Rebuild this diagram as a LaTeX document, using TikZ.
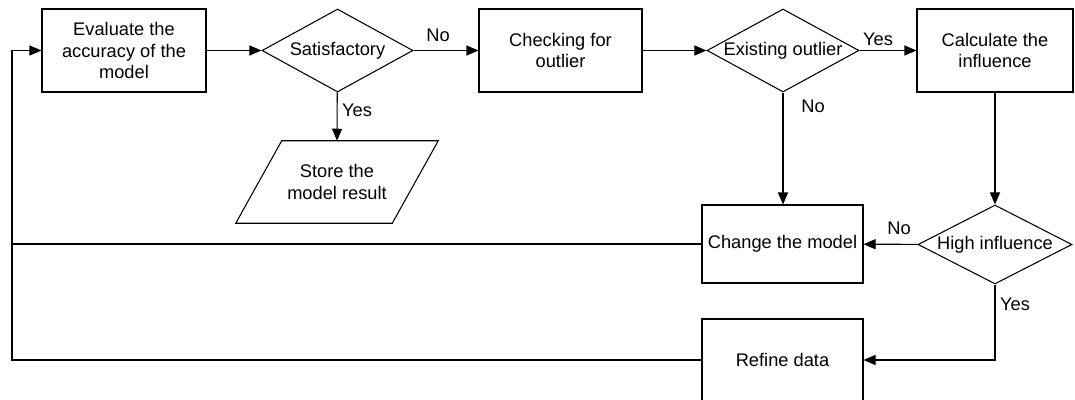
\documentclass[tikz,border=0pt]{standalone}
\usepackage{fontspec}
\setmainfont{Liberation Sans}
\usetikzlibrary{shapes.geometric,arrows.meta}
\begin{document}
\begin{tikzpicture}[x=0.75pt,y=-0.75pt,
  every node/.style={font=\fontsize{13.7}{16}\selectfont},
  procbox/.style={draw, rectangle, line width=0.8pt, align=center, inner sep=0pt},
  decision/.style={draw, diamond, line width=0.8pt, inner sep=0pt},
  flow/.style={line width=0.8pt, -{Triangle[length=9pt,width=7.5pt]}},
  plain/.style={line width=0.8pt},
  lbl/.style={inner sep=0pt}]
\useasboundingbox (0,0) rectangle (1075,400);
\clip (0,0) rectangle (1075,400);

% process steps and decisions
\node[procbox, minimum width=123pt, minimum height=62.25pt] (eval) at (124,50.5)
  {Evaluate the\\accuracy of the\\model};
\node[decision, minimum width=113.25pt, minimum height=62.25pt,
  label={center:Satisfactory}] (sat) at (337.5,50.5) {};
\node[procbox, minimum width=122.25pt, minimum height=62.25pt] (check) at (560.5,50.5)
  {Checking for\\outlier};
\node[decision, minimum width=114pt, minimum height=62.25pt,
  label={center:Existing outlier}] (exist) at (783,50.5) {};
\node[procbox, minimum width=117pt, minimum height=62.25pt] (calc) at (995,50.5)
  {Calculate the\\influence};
\node[decision, minimum width=115.5pt, minimum height=59.25pt,
  label={center:High influence}] (high) at (995,244.5) {};
\node[procbox, minimum width=120.75pt, minimum height=58.5pt] (change) at (782.5,244)
  {Change the model};
\node[procbox, minimum width=120.75pt, minimum height=61.5pt] (refine) at (782.5,360)
  {Refine data};

% output parallelogram
\node[align=center, inner sep=0pt, minimum width=151.5pt, minimum height=61.5pt]
  (store) at (337,182) {Store the\\model result};
\draw[plain] ([xshift=34.5pt]store.north west) -- (store.north east)
  -- ([xshift=-34.5pt]store.south east) -- (store.south west) -- cycle;

% return rail on the left
\coordinate (rail) at (12,50.5);

% connectors
\draw[flow] (eval) -- (sat);
\draw[flow] (sat) -- (check);
\draw[flow] (sat) -- (store.north);
\draw[flow] (check) -- (exist);
\draw[flow] (exist) -- (calc);
\draw[flow] (exist.south) -- (exist.south |- change.north);
\draw[flow] (calc) -- (high);
\draw[flow] (high) -- (change);
\draw[flow] (high.south) |- (refine.east);
\draw[plain] (change.west) -- (change.west -| rail);
\draw[flow] (refine.west) -| (rail) -- (eval.west);

% branch labels
\node[lbl] (noA) at (438,35) {No};
\node[lbl] (yesA) at (357,110) {Yes};
\node[lbl] (yesB) at (878,39) {Yes};
\node[lbl] (noB) at (813,106) {No};
\node[lbl] (noC) at (899,228) {No};
\node[lbl] (yesC) at (1015,304) {Yes};
\end{tikzpicture}
\end{document}
